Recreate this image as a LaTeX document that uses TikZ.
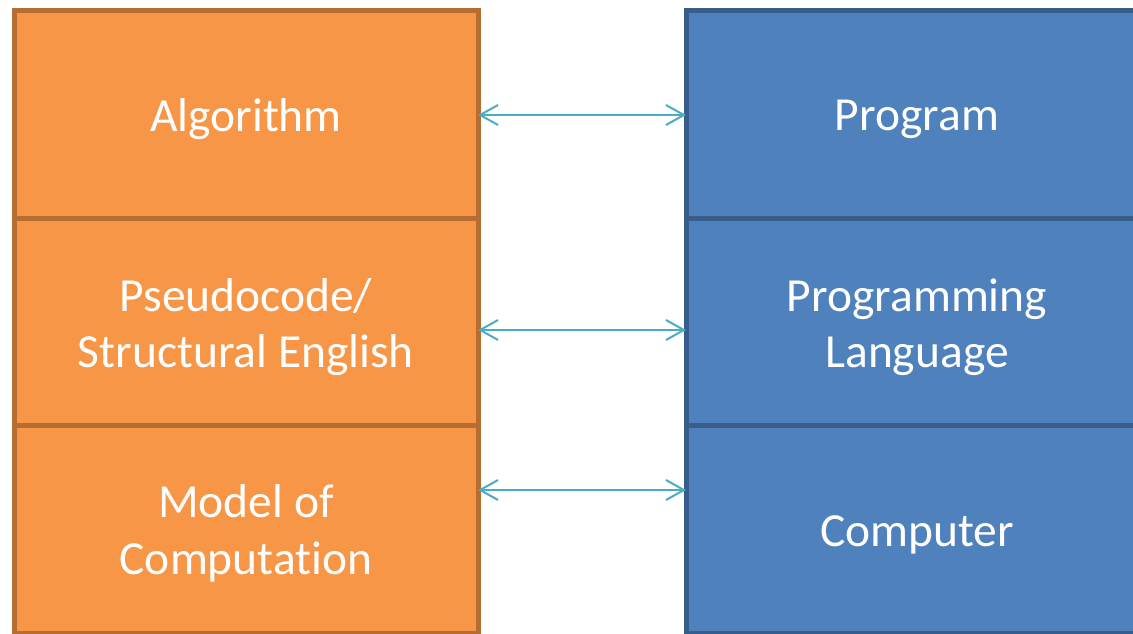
\documentclass[tikz,border=0pt]{standalone}
\usepackage{fontspec}
\setmainfont{Carlito}[Ligatures=NoCommon]
\usetikzlibrary{arrows.meta}
\definecolor{orfill}{HTML}{F79646}
\definecolor{ordraw}{HTML}{B66D31}
\definecolor{blfill}{HTML}{4F81BD}
\definecolor{bldraw}{HTML}{385D8A}
\definecolor{link}{HTML}{4BACC6}
\begin{document}
\begin{tikzpicture}[x=1pt,y=-1pt,
  cell/.style={line width=5pt, inner sep=0pt, outer sep=0pt},
  leftcell/.style={cell, fill=orfill, draw=ordraw,
    minimum width=464pt, minimum height=207.5pt},
  rightcell/.style={cell, fill=blfill, draw=bldraw,
    minimum width=462pt, minimum height=207.5pt},
  caption/.style={text=white, align=center, inner sep=0pt,
    font=\fontsize{47.5}{56.5}\selectfont},
  link/.style={draw=link, line width=2pt,
    {Straight Barb[length=18pt,width=20pt]}-{Straight Barb[length=18pt,width=20pt]}}]
  \useasboundingbox (0,0) rectangle (1133,634);
  % left column
  \node[leftcell] (l1) at (246,114.5) {};
  \node[leftcell] (l2) at (246,322) {};
  \node[leftcell] (l3) at (246,529.5) {};
  % right column
  \node[rightcell] (r1) at (917,114.5) {};
  \node[rightcell] (r2) at (917,322) {};
  \node[rightcell] (r3) at (917,529.5) {};
  % texts, set a little below the cell centres
  \node[caption] (tl1) at ([yshift=-5pt]l1.center) {Algorithm};
  \node[caption] (tl2) at ([yshift=-5pt]l2.center) {Pseudocode/\\Structural English};
  \node[caption] (tl3) at ([yshift=-4pt]l3.center) {Model of\\Computation};
  \node[caption] (tr1) at ([yshift=-5pt]r1.center) {Program};
  \node[caption] (tr2) at ([yshift=-5pt]r2.center) {Programming\\Language};
  \node[caption] (tr3) at ([yshift=-5pt]r3.center) {Computer};
  % correspondences
  \draw[link] ([yshift=-0.5pt]l1.east) -- ([yshift=-0.5pt]r1.west);
  \draw[link] ([yshift=-8pt]l2.east) -- ([yshift=-8pt]r2.west);
  \draw[link] ([yshift=39.5pt]l3.east) -- ([yshift=39.5pt]r3.west);
\end{tikzpicture}
\end{document}
